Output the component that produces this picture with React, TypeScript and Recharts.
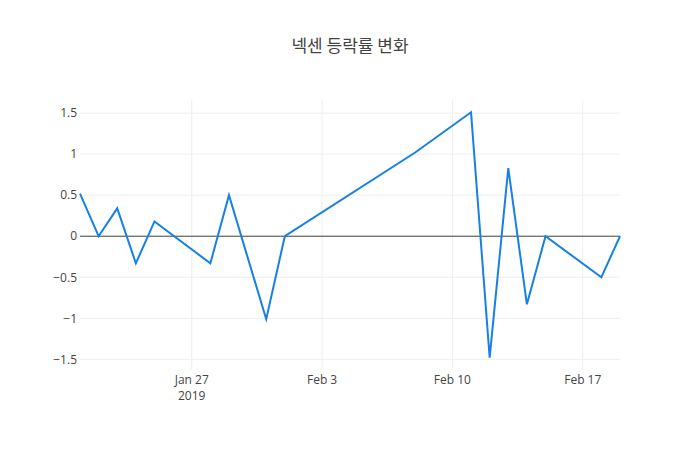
import React from 'react';
import { LineChart, Line, XAxis, YAxis, CartesianGrid, ReferenceLine } from 'recharts';

// trading days and daily change rate (%)
const dates = [
    '2019-01-21', '2019-01-22', '2019-01-23', '2019-01-24', '2019-01-25',
    '2019-01-28', '2019-01-29', '2019-01-31', '2019-02-01', '2019-02-08',
    '2019-02-11', '2019-02-12', '2019-02-13', '2019-02-14', '2019-02-15',
    '2019-02-18', '2019-02-19',
];
const changes = [
    0.52, 0, 0.34, -0.33, 0.18,
    -0.33, 0.5, -1.01, 0, 1.02,
    1.51, -1.48, 0.83, -0.83, 0,
    -0.5, 0,
];
const xTicks = ['2019-01-27', '2019-02-03', '2019-02-10', '2019-02-17'];
const yTicks = [-1.5, -1, -0.5, 0, 0.5, 1, 1.5];

const toTs = (d: string) => Date.UTC(+d.slice(0, 4), +d.slice(5, 7) - 1, +d.slice(8, 10));
const MONTHS = ['Jan', 'Feb', 'Mar', 'Apr', 'May', 'Jun', 'Jul', 'Aug', 'Sep', 'Oct', 'Nov', 'Dec'];

const data = dates.map((d, i) => ({ t: toTs(d), v: changes[i] }));
const xTickValues = xTicks.map(toTs);

const FONT = '"Open Sans", sans-serif';
const TEXT_COLOR = '#444';
const LINE_COLOR = '#1780e6';

const DateTick = (props: any) => {
    const { x, y, payload, index } = props;
    const dt = new Date(payload.value);
    const label = `${MONTHS[dt.getUTCMonth()]} ${dt.getUTCDate()}`;
    return (
        <g transform={`translate(${x},${y})`}>
            <text textAnchor="middle" fill={TEXT_COLOR} fontSize={12} fontFamily={FONT} dy={6}>
                {label}
            </text>
            {index === 0 && (
                <text textAnchor="middle" fill={TEXT_COLOR} fontSize={12} fontFamily={FONT} dy={22}>
                    {dt.getUTCFullYear()}
                </text>
            )}
        </g>
    );
};

const fmtY = (v: number) => (v < 0 ? `\u2212${Math.abs(v)}` : `${v}`);

export default function App() {
    return (
        <div style={{ position: 'absolute', left: 0, top: 0, width: 700, height: 450, background: '#fff' }}>
            <div
                style={{
                    position: 'absolute',
                    top: 32,
                    width: 700,
                    textAlign: 'center',
                    fontFamily: '"Noto Sans CJK KR", "Open Sans", sans-serif',
                    fontSize: 17,
                    color: TEXT_COLOR,
                }}
            >
                넥센 등락률 변화
            </div>
            <LineChart
                width={700}
                height={450}
                data={data}
                margin={{ top: 100, right: 80, bottom: 0, left: 0 }}
            >
                <CartesianGrid
                    stroke="#eee"
                    horizontalValues={yTicks}
                    verticalValues={xTickValues}
                />
                <XAxis
                    dataKey="t"
                    type="number"
                    scale="time"
                    domain={[toTs('2019-01-21'), toTs('2019-02-19')]}
                    ticks={xTickValues}
                    tick={<DateTick />}
                    tickLine={false}
                    axisLine={false}
                    height={80}
                    interval={0}
                />
                <YAxis
                    type="number"
                    domain={[-1.63, 1.66]}
                    ticks={yTicks}
                    tickFormatter={fmtY}
                    tick={{ fill: TEXT_COLOR, fontSize: 12, fontFamily: FONT }}
                    tickLine={false}
                    axisLine={false}
                    tickSize={0}
                    tickMargin={3}
                    width={80}
                    interval={0}
                    allowDataOverflow
                />
                <ReferenceLine y={0} stroke={TEXT_COLOR} strokeWidth={1} />
                <Line
                    type="linear"
                    dataKey="v"
                    stroke={LINE_COLOR}
                    strokeWidth={2}
                    dot={false}
                    activeDot={false}
                    isAnimationActive={false}
                />
            </LineChart>
        </div>
    );
}
